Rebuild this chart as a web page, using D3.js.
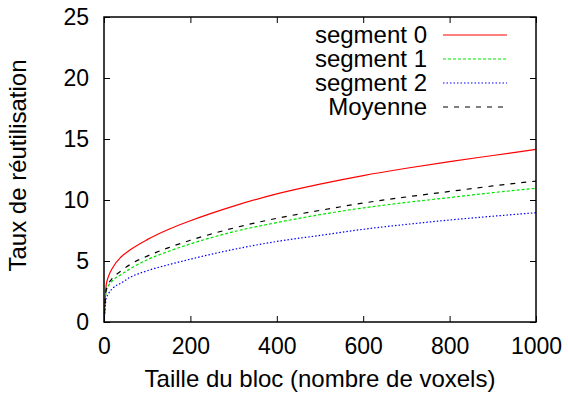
<!DOCTYPE html>
<html>
<head>
<meta charset="utf-8">
<script src="https://cdn.jsdelivr.net/npm/d3@7"></script>
<style>
  body { margin: 0; background: #fff; }
  text { font-family: "Liberation Sans", Arial, sans-serif; fill: #000; }
</style>
</head>
<body>
<div id="chart"></div>
<script>
// ===== Data =====
const blockSizes = [1, 5, 10, 20, 40, 60, 100, 150, 200, 300, 400, 500, 600, 700, 800, 900, 1000];
const seg0 = [0.8, 3.0, 3.7, 4.45, 5.35, 5.9, 6.75, 7.6, 8.3, 9.5, 10.5, 11.3, 12.0, 12.6, 13.15, 13.65, 14.15];
const seg1 = [0.5, 2.5, 2.95, 3.4, 3.9, 4.35, 5.1, 5.8, 6.4, 7.4, 8.15, 8.8, 9.35, 9.8, 10.2, 10.6, 10.96];
const seg2 = [0.4, 1.9, 2.3, 2.75, 3.2, 3.65, 4.2, 4.7, 5.15, 5.95, 6.6, 7.1, 7.6, 8.0, 8.36, 8.67, 8.96];
const moyenne = [0.6, 2.6, 3.1, 3.6, 4.2, 4.7, 5.4, 6.1, 6.7, 7.7, 8.5, 9.15, 9.75, 10.25, 10.7, 11.15, 11.55];

const seriesNames = ["segment 0", "segment 1", "segment 2", "Moyenne"];
const seriesValues = [seg0, seg1, seg2, moyenne];
const seriesColors = ["#ff0000", "#00e600", "#0000ff", "#000000"];
const seriesDash = [null, "3,2", "1.5,2", "5,6"];

const xTicks = [0, 200, 400, 600, 800, 1000];
const yTicks = [0, 5, 10, 15, 20, 25];

// ===== SVG config =====
const W = 568;
const H = 396;
const M = { top: 17, right: 32, bottom: 74, left: 104 };
const innerW = W - M.left - M.right;
const innerH = H - M.top - M.bottom;
const FS_TICK = 23;
const FS = 24;

const svg = d3.select("#chart").append("svg")
  .attr("width", W)
  .attr("height", H);

const g = svg.append("g").attr("transform", `translate(${M.left},${M.top})`);

const x = d3.scaleLinear().domain([0, 1000]).range([0, innerW]);
const y = d3.scaleLinear().domain([0, 25]).range([innerH, 0]);

// axes (ticks vers l'intérieur, miroir en haut / à droite)
const tk = 6;
const axB = g.append("g").attr("transform", `translate(0,${innerH})`)
  .call(d3.axisBottom(x).tickValues(xTicks).tickSize(-tk).tickPadding(16).tickFormat(d3.format("d")));
const axL = g.append("g")
  .call(d3.axisLeft(y).tickValues(yTicks).tickSize(-tk).tickPadding(15));
const axT = g.append("g")
  .call(d3.axisTop(x).tickValues(xTicks).tickSize(-tk).tickFormat(""));
const axR = g.append("g").attr("transform", `translate(${innerW},0)`)
  .call(d3.axisRight(y).tickValues(yTicks).tickSize(-tk).tickFormat(""));

[axB, axL, axT, axR].forEach(a => {
  a.select(".domain").remove();
  a.selectAll(".tick line").attr("stroke", "#000").attr("stroke-width", 1);
  a.selectAll("text").style("font-size", FS_TICK + "px").attr("fill", "#000");
});

// courbes
const line = d3.line()
  .x(d => x(d[0]))
  .y(d => y(d[1]))
  .curve(d3.curveMonotoneX);

seriesValues.forEach((vals, i) => {
  g.append("path")
    .datum(blockSizes.map((b, j) => [b, vals[j]]))
    .attr("fill", "none")
    .attr("stroke", seriesColors[i])
    .attr("stroke-width", 1.2)
    .attr("stroke-dasharray", seriesDash[i])
    .attr("d", line);
});

// cadre
g.append("rect")
  .attr("x", 0).attr("y", 0)
  .attr("width", innerW).attr("height", innerH)
  .attr("fill", "none")
  .attr("stroke", "#000")
  .attr("stroke-width", 1.5);

// légende
const legend = g.append("g");
seriesNames.forEach((name, i) => {
  const ly = 18 + i * 24;
  legend.append("text")
    .attr("x", 323)
    .attr("y", ly)
    .attr("dy", "0.35em")
    .attr("text-anchor", "end")
    .style("font-size", FS + "px")
    .text(name);
  legend.append("line")
    .attr("x1", 339).attr("x2", 403)
    .attr("y1", ly).attr("y2", ly)
    .attr("stroke", seriesColors[i])
    .attr("stroke-width", 1.2)
    .attr("stroke-dasharray", seriesDash[i]);
});

// titres d'axes
svg.append("text")
  .attr("x", M.left + innerW / 2)
  .attr("y", 387)
  .attr("text-anchor", "middle")
  .style("font-size", FS + "px")
  .text("Taille du bloc (nombre de voxels)");

svg.append("text")
  .attr("transform", `translate(26,${M.top + innerH / 2 - 4}) rotate(-90)`)
  .attr("text-anchor", "middle")
  .style("font-size", FS + "px")
  .text("Taux de réutilisation");
</script>
</body>
</html>
